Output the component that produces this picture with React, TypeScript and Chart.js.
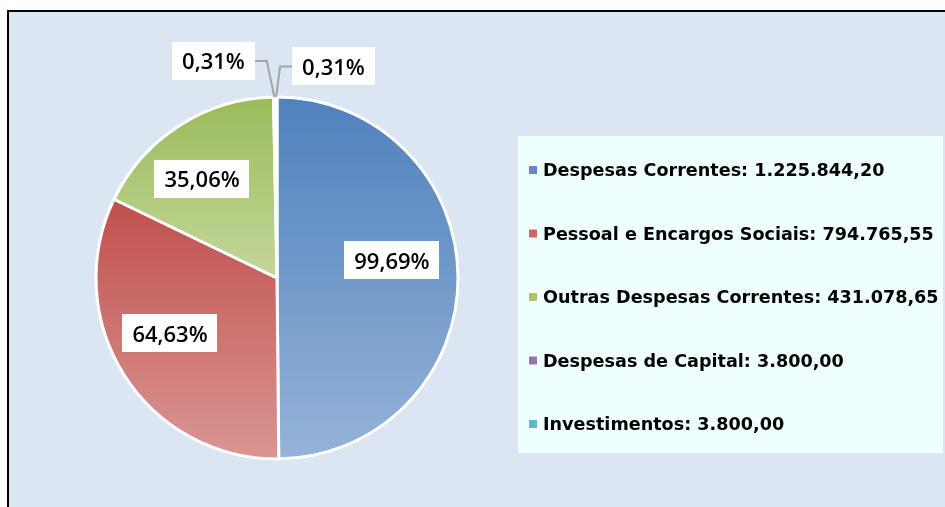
import React, { useEffect, useRef } from "react";
import { Chart, registerables } from "chart.js";

Chart.register(...registerables);

// ---- data ----
const categories = [
  "Despesas Correntes",
  "Pessoal e Encargos Sociais",
  "Outras Despesas Correntes",
  "Despesas de Capital",
  "Investimentos",
];
const values = [1225844.2, 794765.55, 431078.65, 3800.0, 3800.0];
const percentLabels = ["99,69%", "64,63%", "35,06%", "0,31%", "0,31%"];

// ---- styles ----
const topColors = ["#4F81BD", "#C0504D", "#9BBB59", "#8064A2", "#4BACC6"];
const bottomColors = ["#95B3D7", "#DA9694", "#C4D79B", "#B3A2C7", "#92CDDC"];
const markerColors = ["#6288C2", "#CC6664", "#A9C46F", "#8E78B0", "#5DB7CE"];

// label centre offsets from the pie centre, in units of the radius
const labelPlacement = [
  { dx: 0.635, dy: -0.097, leader: "" },
  { dx: -0.591, dy: 0.304, leader: "" },
  { dx: -0.414, dy: -0.549, leader: "" },
  { dx: -0.351, dy: -1.199, leader: "right" },
  { dx: 0.312, dy: -1.169, leader: "left" },
];

const LABEL_FONT = '650 22px "Open Sans"';
const LEGEND_FONT = 'bold 17.6px "DejaVu Sans"';

function fmtBR(v: number): string {
  const [i, d] = v.toFixed(2).split(".");
  return i.replace(/\B(?=(\d{3})+(?!\d))/g, ".") + "," + d;
}

function angleIn(a: number, s: number, e: number): boolean {
  let t = a;
  while (t < s) t += Math.PI * 2;
  while (t - Math.PI * 2 >= s) t -= Math.PI * 2;
  return t <= e;
}

const gradientPlugin = {
  id: "sliceGradient",
  beforeDatasetsDraw(chart: any) {
    const ctx = chart.ctx;
    const meta = chart.getDatasetMeta(0);
    meta.data.forEach((arc: any, i: number) => {
      const { x, y, startAngle, endAngle, outerRadius } = arc;
      const ys = [y, y + outerRadius * Math.sin(startAngle), y + outerRadius * Math.sin(endAngle)];
      let minY = Math.min(...ys);
      let maxY = Math.max(...ys);
      if (angleIn(-Math.PI / 2, startAngle, endAngle)) minY = y - outerRadius;
      if (angleIn(Math.PI / 2, startAngle, endAngle)) maxY = y + outerRadius;
      if (maxY - minY < 1) maxY = minY + 1;
      const g = ctx.createLinearGradient(0, minY, 0, maxY);
      g.addColorStop(0, topColors[i]);
      g.addColorStop(1, bottomColors[i]);
      arc.options.backgroundColor = g;
    });
  },
};

const labelPlugin = {
  id: "percentLabels",
  afterDatasetsDraw(chart: any) {
    const ctx = chart.ctx;
    const meta = chart.getDatasetMeta(0);
    ctx.save();
    ctx.font = LABEL_FONT;
    meta.data.forEach((arc: any, i: number) => {
      const p = labelPlacement[i];
      const R = arc.outerRadius;
      const cx = arc.x + p.dx * R;
      const cy = arc.y + p.dy * R;
      const text = percentLabels[i];
      const tw = ctx.measureText(text).width;
      const w = tw + 20;
      const h = 38;
      if (p.leader) {
        const mid = (arc.startAngle + arc.endAngle) / 2;
        const ax = arc.x + R * Math.cos(mid);
        const ay = arc.y + R * Math.sin(mid);
        const ex = p.leader === "right" ? cx + w / 2 : cx - w / 2;
        const kx = p.leader === "right" ? ex + 12 : ex - 12;
        ctx.strokeStyle = "#A5A5A5";
        ctx.lineWidth = 2;
        ctx.beginPath();
        ctx.moveTo(ex, cy);
        ctx.lineTo(kx, cy);
        ctx.lineTo(ax, ay);
        ctx.stroke();
      }
      ctx.fillStyle = "#FFFFFF";
      ctx.fillRect(Math.round(cx - w / 2), Math.round(cy - h / 2), Math.round(w), h);
      ctx.fillStyle = "#000000";
      ctx.textAlign = "center";
      ctx.textBaseline = "alphabetic";
      ctx.fillText(text, cx, cy + 8.5);
    });
    ctx.restore();
  },
};

const legendPlugin = {
  id: "sideLegend",
  afterDraw(chart: any) {
    const ctx = chart.ctx;
    ctx.save();
    ctx.fillStyle = "#EFFFFF";
    ctx.fillRect(518, 136, 425, 317);
    ctx.font = LEGEND_FONT;
    ctx.textAlign = "left";
    ctx.textBaseline = "alphabetic";
    const labels: string[] = chart.data.labels;
    const data: number[] = chart.data.datasets[0].data;
    labels.forEach((lab, i) => {
      const base = 176 + 63.5 * i;
      ctx.fillStyle = "#FFFFFF";
      ctx.fillRect(528, base - 11, 10, 10);
      ctx.fillStyle = markerColors[i];
      ctx.fillRect(529, base - 10, 8, 8);
      ctx.fillStyle = "#000000";
      ctx.fillText(lab + ": " + fmtBR(data[i]), 543, base);
    });
    ctx.restore();
  },
};

export default function App() {
  const ref = useRef<HTMLCanvasElement | null>(null);

  useEffect(() => {
    if (!ref.current) return;
    const chart = new Chart(ref.current, {
      type: "pie",
      data: {
        labels: categories,
        datasets: [
          {
            data: values,
            backgroundColor: (c: any) => topColors[c.dataIndex],
            borderColor: "#FFFFFF",
            borderWidth: 3,
          },
        ],
      },
      options: {
        responsive: false,
        animation: false,
        radius: 181,
        layout: { padding: { left: 0, right: 391, top: 96, bottom: 47 } },
        plugins: {
          legend: { display: false },
          tooltip: { enabled: false },
        },
        events: [],
      } as any,
      plugins: [gradientPlugin, labelPlugin, legendPlugin],
    });
    return () => chart.destroy();
  }, []);

  return (
    <div
      style={{
        position: "fixed",
        left: 0,
        top: 0,
        width: 945,
        height: 507,
        background: "#FFFFFF",
        overflow: "hidden",
      }}
    >
      <div
        style={{
          position: "absolute",
          left: 7,
          top: 10,
          width: 1000,
          height: 600,
          border: "2px solid #000000",
          background: "#DCE6F2",
        }}
      />
      <canvas
        ref={ref}
        width={945}
        height={507}
        style={{ position: "absolute", left: 0, top: 0, width: 945, height: 507 }}
      />
    </div>
  );
}
